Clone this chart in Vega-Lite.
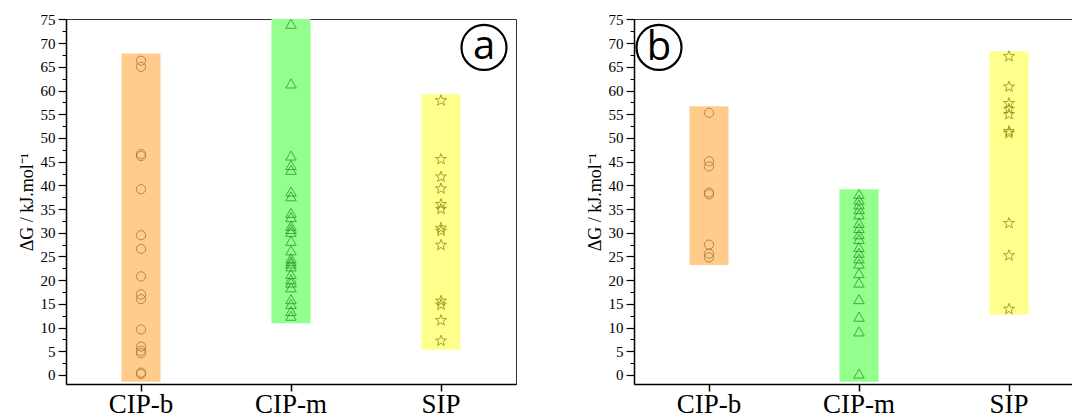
{
  "$schema": "https://vega.github.io/schema/vega-lite/v6.json",
  "padding": {"left": 17, "top": 11, "right": 0, "bottom": 0},
  "background": "white",
  "spacing": 68,
  "config": {
    "view": {"stroke": "#333333", "strokeWidth": 1},
    "axis": {"grid": false, "domainColor": "black", "tickColor": "black", "labelColor": "black", "titleColor": "black"}
  },
  "datasets": {
    "ranges": [
      {"panel": "a", "cat": "CIP-b", "lo": -1.4, "hi": 67.8},
      {"panel": "a", "cat": "CIP-m", "lo": 10.9, "hi": 75.1},
      {"panel": "a", "cat": "SIP", "lo": 5.3, "hi": 59.2},
      {"panel": "b", "cat": "CIP-b", "lo": 23.2, "hi": 56.7},
      {"panel": "b", "cat": "CIP-m", "lo": -1.4, "hi": 39.2},
      {"panel": "b", "cat": "SIP", "lo": 12.7, "hi": 68.3}
    ],
    "labels": [
      {"panel": "a", "label": "a", "cat": "SIP", "v": 69.1},
      {"panel": "b", "label": "b", "cat": "CIP-b", "v": 69.1}
    ],
    "points": [
      {"panel": "a", "cat": "CIP-b", "v": 66.3}, {"panel": "a", "cat": "CIP-b", "v": 65.0},
      {"panel": "a", "cat": "CIP-b", "v": 46.6}, {"panel": "a", "cat": "CIP-b", "v": 46.2},
      {"panel": "a", "cat": "CIP-b", "v": 39.2}, {"panel": "a", "cat": "CIP-b", "v": 29.5},
      {"panel": "a", "cat": "CIP-b", "v": 26.6}, {"panel": "a", "cat": "CIP-b", "v": 20.8},
      {"panel": "a", "cat": "CIP-b", "v": 17.0}, {"panel": "a", "cat": "CIP-b", "v": 16.0},
      {"panel": "a", "cat": "CIP-b", "v": 9.6}, {"panel": "a", "cat": "CIP-b", "v": 6.0},
      {"panel": "a", "cat": "CIP-b", "v": 5.1}, {"panel": "a", "cat": "CIP-b", "v": 4.6},
      {"panel": "a", "cat": "CIP-b", "v": 0.5}, {"panel": "a", "cat": "CIP-b", "v": 0.2},
      {"panel": "a", "cat": "CIP-m", "v": 74.1}, {"panel": "a", "cat": "CIP-m", "v": 61.5},
      {"panel": "a", "cat": "CIP-m", "v": 46.3}, {"panel": "a", "cat": "CIP-m", "v": 44.3},
      {"panel": "a", "cat": "CIP-m", "v": 43.3}, {"panel": "a", "cat": "CIP-m", "v": 38.7},
      {"panel": "a", "cat": "CIP-m", "v": 37.7}, {"panel": "a", "cat": "CIP-m", "v": 34.2},
      {"panel": "a", "cat": "CIP-m", "v": 33.3}, {"panel": "a", "cat": "CIP-m", "v": 31.5},
      {"panel": "a", "cat": "CIP-m", "v": 30.8}, {"panel": "a", "cat": "CIP-m", "v": 30.2},
      {"panel": "a", "cat": "CIP-m", "v": 28.3}, {"panel": "a", "cat": "CIP-m", "v": 26.3},
      {"panel": "a", "cat": "CIP-m", "v": 24.6}, {"panel": "a", "cat": "CIP-m", "v": 24.0},
      {"panel": "a", "cat": "CIP-m", "v": 23.5}, {"panel": "a", "cat": "CIP-m", "v": 22.9},
      {"panel": "a", "cat": "CIP-m", "v": 21.3}, {"panel": "a", "cat": "CIP-m", "v": 20.2},
      {"panel": "a", "cat": "CIP-m", "v": 19.5}, {"panel": "a", "cat": "CIP-m", "v": 18.5},
      {"panel": "a", "cat": "CIP-m", "v": 16.0}, {"panel": "a", "cat": "CIP-m", "v": 15.0},
      {"panel": "a", "cat": "CIP-m", "v": 13.5}, {"panel": "a", "cat": "CIP-m", "v": 12.5},
      {"panel": "a", "cat": "SIP", "v": 57.9}, {"panel": "a", "cat": "SIP", "v": 45.5},
      {"panel": "a", "cat": "SIP", "v": 41.8}, {"panel": "a", "cat": "SIP", "v": 39.3},
      {"panel": "a", "cat": "SIP", "v": 36.0}, {"panel": "a", "cat": "SIP", "v": 35.0},
      {"panel": "a", "cat": "SIP", "v": 31.0}, {"panel": "a", "cat": "SIP", "v": 30.4},
      {"panel": "a", "cat": "SIP", "v": 27.4}, {"panel": "a", "cat": "SIP", "v": 15.6},
      {"panel": "a", "cat": "SIP", "v": 14.8}, {"panel": "a", "cat": "SIP", "v": 11.5},
      {"panel": "a", "cat": "SIP", "v": 7.2},
      {"panel": "b", "cat": "CIP-b", "v": 55.3}, {"panel": "b", "cat": "CIP-b", "v": 45.1},
      {"panel": "b", "cat": "CIP-b", "v": 44.0}, {"panel": "b", "cat": "CIP-b", "v": 38.5},
      {"panel": "b", "cat": "CIP-b", "v": 38.1}, {"panel": "b", "cat": "CIP-b", "v": 27.5},
      {"panel": "b", "cat": "CIP-b", "v": 25.6}, {"panel": "b", "cat": "CIP-b", "v": 24.8},
      {"panel": "b", "cat": "CIP-m", "v": 38.2}, {"panel": "b", "cat": "CIP-m", "v": 37.0},
      {"panel": "b", "cat": "CIP-m", "v": 36.0}, {"panel": "b", "cat": "CIP-m", "v": 35.0},
      {"panel": "b", "cat": "CIP-m", "v": 33.9}, {"panel": "b", "cat": "CIP-m", "v": 32.1},
      {"panel": "b", "cat": "CIP-m", "v": 31.0}, {"panel": "b", "cat": "CIP-m", "v": 29.7},
      {"panel": "b", "cat": "CIP-m", "v": 28.7}, {"panel": "b", "cat": "CIP-m", "v": 27.0},
      {"panel": "b", "cat": "CIP-m", "v": 25.8}, {"panel": "b", "cat": "CIP-m", "v": 24.6},
      {"panel": "b", "cat": "CIP-m", "v": 23.5}, {"panel": "b", "cat": "CIP-m", "v": 21.5},
      {"panel": "b", "cat": "CIP-m", "v": 19.5}, {"panel": "b", "cat": "CIP-m", "v": 16.0},
      {"panel": "b", "cat": "CIP-m", "v": 12.3}, {"panel": "b", "cat": "CIP-m", "v": 9.2},
      {"panel": "b", "cat": "CIP-m", "v": 0.3},
      {"panel": "b", "cat": "SIP", "v": 67.2}, {"panel": "b", "cat": "SIP", "v": 60.8},
      {"panel": "b", "cat": "SIP", "v": 57.3}, {"panel": "b", "cat": "SIP", "v": 56.1},
      {"panel": "b", "cat": "SIP", "v": 55.0}, {"panel": "b", "cat": "SIP", "v": 51.4},
      {"panel": "b", "cat": "SIP", "v": 51.0}, {"panel": "b", "cat": "SIP", "v": 32.0},
      {"panel": "b", "cat": "SIP", "v": 25.2}, {"panel": "b", "cat": "SIP", "v": 13.9}
    ]
  },
  "hconcat": [
    {
      "width": 450, "height": 365,
      "resolve": {"axis": {"y": "independent"}},
      "layer": [
        {
          "data": {"name": "ranges"},
          "transform": [{"filter": "datum.panel == 'a'"}],
          "mark": {"type": "bar", "width": {"band": 0.26}, "clip": true},
          "encoding": {
            "x": {"field": "cat", "type": "nominal", "scale": {"domain": ["CIP-b", "CIP-m", "SIP"], "paddingInner": 0, "paddingOuter": 0},
              "axis": {"title": null, "labelAngle": 0, "labelFont": "Liberation Serif", "labelFontSize": 27, "labelPadding": 0, "tickSize": 7, "tickWidth": 1.5, "domainWidth": 1.5}},
            "y": {"field": "lo", "type": "quantitative", "scale": {"domain": [-1.9, 75.1], "nice": false, "zero": false},
              "axis": {"values": [0,5,10,15,20,25,30,35,40,45,50,55,60,65,70,75], "title": "ΔG / kJ.mol⁻¹", "titleFont": "Liberation Serif", "titleFontSize": 18, "titleFontWeight": "normal", "titlePadding": 4, "labelFont": "Liberation Serif", "labelFontSize": 15, "labelPadding": 3, "tickSize": 8, "tickWidth": 1.2, "domainWidth": 1.5}},
            "y2": {"field": "hi"},
            "color": {"field": "cat", "type": "nominal", "scale": {"domain": ["CIP-b", "CIP-m", "SIP"], "range": ["#FFCC8C", "#93FF8C", "#FFFF8C"]}, "legend": null}
          }
        },
        {
          "data": {"name": "points"},
          "transform": [{"filter": "datum.panel == 'a'"}],
          "mark": {"type": "point", "filled": false, "strokeWidth": 1},
          "encoding": {
            "x": {"field": "cat", "type": "nominal"},
            "y": {"field": "v", "type": "quantitative", "scale": {"domain": [-1.9, 75.1], "nice": false, "zero": false},
              "axis": {"values": [2.5,7.5,12.5,17.5,22.5,27.5,32.5,37.5,42.5,47.5,52.5,57.5,62.5,67.5,72.5], "labels": false, "domain": false, "title": null, "tickSize": 4, "tickWidth": 1, "orient": "left"}},
            "shape": {"field": "cat", "type": "nominal", "scale": {"domain": ["CIP-b", "CIP-m", "SIP"], "range": ["circle", "triangle-up", "M0,-1L0.235,-0.324L0.951,-0.309L0.38,0.124L0.588,0.809L0,0.4L-0.588,0.809L-0.38,0.124L-0.951,-0.309L-0.235,-0.324Z"]}, "legend": null},
            "stroke": {"field": "cat", "type": "nominal", "scale": {"domain": ["CIP-b", "CIP-m", "SIP"], "range": ["#A06A28", "#1F8A1F", "#7E7E08"]}, "legend": null},
            "size": {"field": "cat", "type": "nominal", "scale": {"domain": ["CIP-b", "CIP-m", "SIP"], "range": [85, 135, 100]}, "legend": null}
          }
        },
        {
          "data": {"name": "labels"},
          "transform": [{"filter": "datum.panel == 'a'"}],
          "mark": {"type": "point", "shape": "circle", "filled": false, "size": 2025, "stroke": "black", "strokeWidth": 2.2, "opacity": 1, "xOffset": 43},
          "encoding": {
            "x": {"field": "cat", "type": "nominal"},
            "y": {"field": "v", "type": "quantitative", "axis": null}
          }
        },
        {
          "data": {"name": "labels"},
          "transform": [{"filter": "datum.panel == 'a'"}],
          "mark": {"type": "text", "font": "Open Sans", "fontSize": 40, "baseline": "alphabetic", "align": "center", "dx": 43, "dy": 12, "color": "black"},
          "encoding": {
            "x": {"field": "cat", "type": "nominal"},
            "y": {"field": "v", "type": "quantitative", "axis": null},
            "text": {"field": "label"}
          }
        }
      ]
    },
    {
      "width": 450, "height": 365,
      "resolve": {"axis": {"y": "independent"}},
      "layer": [
        {
          "data": {"name": "ranges"},
          "transform": [{"filter": "datum.panel == 'b'"}],
          "mark": {"type": "bar", "width": {"band": 0.26}, "clip": true},
          "encoding": {
            "x": {"field": "cat", "type": "nominal", "scale": {"domain": ["CIP-b", "CIP-m", "SIP"], "paddingInner": 0, "paddingOuter": 0},
              "axis": {"title": null, "labelAngle": 0, "labelFont": "Liberation Serif", "labelFontSize": 27, "labelPadding": 0, "tickSize": 7, "tickWidth": 1.5, "domainWidth": 1.5}},
            "y": {"field": "lo", "type": "quantitative", "scale": {"domain": [-1.9, 75.1], "nice": false, "zero": false},
              "axis": {"values": [0,5,10,15,20,25,30,35,40,45,50,55,60,65,70,75], "title": "ΔG / kJ.mol⁻¹", "titleFont": "Liberation Serif", "titleFontSize": 18, "titleFontWeight": "normal", "titlePadding": 4, "labelFont": "Liberation Serif", "labelFontSize": 15, "labelPadding": 3, "tickSize": 8, "tickWidth": 1.2, "domainWidth": 1.5}},
            "y2": {"field": "hi"},
            "color": {"field": "cat", "type": "nominal", "scale": {"domain": ["CIP-b", "CIP-m", "SIP"], "range": ["#FFCC8C", "#93FF8C", "#FFFF8C"]}, "legend": null}
          }
        },
        {
          "data": {"name": "points"},
          "transform": [{"filter": "datum.panel == 'b'"}],
          "mark": {"type": "point", "filled": false, "strokeWidth": 1},
          "encoding": {
            "x": {"field": "cat", "type": "nominal"},
            "y": {"field": "v", "type": "quantitative", "scale": {"domain": [-1.9, 75.1], "nice": false, "zero": false},
              "axis": {"values": [2.5,7.5,12.5,17.5,22.5,27.5,32.5,37.5,42.5,47.5,52.5,57.5,62.5,67.5,72.5], "labels": false, "domain": false, "title": null, "tickSize": 4, "tickWidth": 1, "orient": "left"}},
            "shape": {"field": "cat", "type": "nominal", "scale": {"domain": ["CIP-b", "CIP-m", "SIP"], "range": ["circle", "triangle-up", "M0,-1L0.235,-0.324L0.951,-0.309L0.38,0.124L0.588,0.809L0,0.4L-0.588,0.809L-0.38,0.124L-0.951,-0.309L-0.235,-0.324Z"]}, "legend": null},
            "stroke": {"field": "cat", "type": "nominal", "scale": {"domain": ["CIP-b", "CIP-m", "SIP"], "range": ["#A06A28", "#1F8A1F", "#7E7E08"]}, "legend": null},
            "size": {"field": "cat", "type": "nominal", "scale": {"domain": ["CIP-b", "CIP-m", "SIP"], "range": [85, 135, 100]}, "legend": null}
          }
        },
        {
          "data": {"name": "labels"},
          "transform": [{"filter": "datum.panel == 'b'"}],
          "mark": {"type": "point", "shape": "circle", "filled": false, "size": 2025, "stroke": "black", "strokeWidth": 2.2, "opacity": 1, "xOffset": -50},
          "encoding": {
            "x": {"field": "cat", "type": "nominal"},
            "y": {"field": "v", "type": "quantitative", "axis": null}
          }
        },
        {
          "data": {"name": "labels"},
          "transform": [{"filter": "datum.panel == 'b'"}],
          "mark": {"type": "text", "font": "Open Sans", "fontSize": 40, "baseline": "alphabetic", "align": "center", "dx": -50, "dy": 13, "color": "black"},
          "encoding": {
            "x": {"field": "cat", "type": "nominal"},
            "y": {"field": "v", "type": "quantitative", "axis": null},
            "text": {"field": "label"}
          }
        }
      ]
    }
  ]
}
